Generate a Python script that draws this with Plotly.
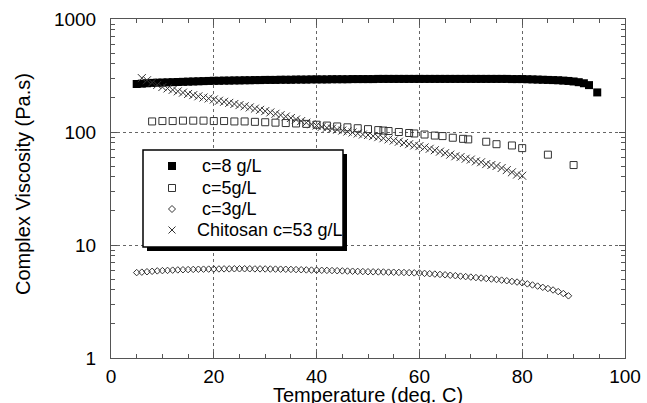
import plotly.graph_objects as go

# ---------------- data ----------------
t8 = [5, 6, 7, 8, 9, 10, 11, 12, 13, 14, 15, 16, 17, 18, 19, 20, 21, 22, 23, 24, 25, 26, 27, 28, 29, 30,
      31, 32, 33, 34, 35, 36, 37, 38, 39, 40, 41, 42, 43, 44, 45, 46, 47, 48, 49, 50, 51, 52, 53, 54, 55,
      56, 57, 58, 59, 60, 61, 62, 63, 64, 65, 66, 67, 68, 69, 70, 71, 72, 73, 74, 75, 76, 77, 78, 79, 80,
      81, 82, 83, 84, 85, 86, 87, 88, 89, 90, 91, 92, 93, 94.6]
v8 = [266, 268, 270, 272, 273, 274, 275, 276, 277, 278, 279, 280, 281, 282, 283, 284, 284, 285, 285, 286,
      286, 287, 287, 288, 288, 289, 289, 289, 290, 290, 290, 291, 291, 291, 292, 292, 292, 292, 293, 293,
      293, 293, 294, 294, 294, 294, 294, 295, 295, 295, 295, 295, 295, 295, 295, 295, 295, 295, 295, 295,
      295, 295, 295, 295, 295, 295, 295, 295, 295, 295, 295, 295, 295, 294, 294, 294, 293, 292, 291, 290,
      289, 288, 287, 285, 283, 280, 276, 270, 260, 224]

t5 = [8, 10, 12, 14, 16, 18, 20, 22, 24, 26, 28, 30, 32, 34, 36, 38, 40, 42, 44, 46, 48, 50, 52, 53, 54,
      56, 58, 59, 61, 63, 64.5, 66.5, 68.5, 69.5, 73, 75, 78, 80, 85, 90]
v5 = [124, 125, 125, 126, 126, 126, 125, 125, 124, 124, 123, 122, 121, 120, 119, 118, 116, 114, 112, 110,
      108, 106, 104, 103, 102, 100, 98, 97, 95, 93, 92, 89, 87, 86, 82, 78, 76, 72, 63, 51]

t3 = [5, 6, 7, 8, 9, 10, 11, 12, 13, 14, 15, 16, 17, 18, 19, 20, 21, 22, 23, 24, 25, 26, 27, 28, 29, 30,
      31, 32, 33, 34, 35, 36, 37, 38, 39, 40, 41, 42, 43, 44, 45, 46, 47, 48, 49, 50, 51, 52, 53, 54, 55,
      56, 57, 58, 59, 60, 61, 62, 63, 64, 65, 66, 67, 68, 69, 70, 71, 72, 73, 74, 75, 76, 77, 78, 79, 80,
      81, 82, 83, 84, 85, 86, 87, 88, 89]
v3 = [5.70, 5.75, 5.80, 5.85, 5.90, 5.93, 5.96, 5.99, 6.02, 6.04, 6.06, 6.08, 6.10, 6.11, 6.12, 6.13,
      6.14, 6.15, 6.15, 6.16, 6.16, 6.16, 6.16, 6.15, 6.15, 6.14, 6.13, 6.12, 6.11, 6.10, 6.08, 6.06,
      6.04, 6.02, 6.00, 5.98, 5.97, 5.96, 5.94, 5.92, 5.90, 5.88, 5.86, 5.84, 5.82, 5.80, 5.79, 5.78,
      5.77, 5.75, 5.74, 5.72, 5.71, 5.69, 5.67, 5.65, 5.61, 5.57, 5.53, 5.49, 5.45, 5.40, 5.35, 5.30,
      5.25, 5.20, 5.15, 5.10, 5.05, 5.00, 4.95, 4.89, 4.83, 4.76, 4.70, 4.63, 4.53, 4.43, 4.33, 4.22,
      4.12, 4.00, 3.87, 3.72, 3.55]

tc = [6, 7, 8, 9, 10, 11, 12, 13, 14, 15, 16, 17, 18, 19, 20, 21, 22, 23, 24, 25, 26, 27, 28, 29, 30,
      31, 32, 33, 34, 35, 36, 37, 38, 39, 40, 41, 42, 43, 44, 45, 46, 47, 48, 49, 50, 51, 52, 53, 54, 55,
      56, 57, 58, 59, 60, 61, 62, 63, 64, 65, 66, 67, 68, 69, 70, 71, 72, 73, 74, 75, 76, 77, 78, 79, 80]
vc = [300, 287, 274, 261, 250, 243, 236, 229, 223, 217, 212, 207, 202, 198, 194, 189, 185, 181, 177, 173,
      169, 165, 161, 157, 153, 149, 145, 141, 137, 133, 129, 125, 121, 117, 114, 111, 109, 107, 105, 103,
      101, 99, 97, 95, 94, 92, 90, 88, 86, 84, 82, 80, 78, 76, 75, 73, 71, 69, 67, 65, 63, 61, 60, 58,
      57, 55, 54, 52, 51, 50, 48, 46, 44, 42, 41]

names = ["c=8 g/L", "c=5g/L", "c=3g/L", "Chitosan c=53 g/L"]
x_ticks = [0, 20, 40, 60, 80, 100]
y_ticks = [1, 10, 100, 1000]
x_title = "Temperature (deg. C)"
y_title = "Complex Viscosity (Pa.s)"

FONT = "Liberation Sans, Arial, sans-serif"
GREY = "#333333"

styles = [
    dict(symbol="square", size=8, color="black"),
    dict(symbol="square-open", size=7, color=GREY, line=dict(width=1)),
    dict(symbol="diamond-open", size=5, color=GREY, line=dict(width=1)),
    dict(symbol="x-thin-open", size=8, color=GREY, line=dict(width=1, color=GREY)),
]

fig = go.Figure()
for xs, ys, nm, st in zip([t8, t5, t3, tc], [v8, v5, v3, vc], names, styles):
    fig.add_trace(go.Scatter(x=xs, y=ys, mode="markers", name=nm, marker=st, showlegend=False))

# ---- layout geometry (pixels) ----
L, R, T, B = 111, 22, 19, 45
W, H = 647, 403
PW, PH = W - L - R, H - T - B


def px(p):  # pixel x -> paper fraction
    return (p - L) / PW


def py(p):  # pixel y -> paper fraction
    return (H - B - p) / PH


# ---- hand-drawn legend box (with drop shadow) ----
mx = 172
rows = [166, 188, 209, 230]
text_x = [200, 200, 200, 195]

shapes = [
    dict(type="rect", xref="paper", yref="paper", x0=px(147), x1=px(347), y0=py(251), y1=py(154),
         fillcolor="black", line=dict(width=0), layer="above"),
    dict(type="rect", xref="paper", yref="paper", x0=px(143), x1=px(343), y0=py(247), y1=py(150),
         fillcolor="white", line=dict(width=1.5, color="black"), layer="above"),
    # filled square
    dict(type="rect", xref="paper", yref="paper", x0=px(mx - 4), x1=px(mx + 4),
         y0=py(rows[0] + 4), y1=py(rows[0] - 4), fillcolor="black", line=dict(width=0), layer="above"),
    # open square
    dict(type="rect", xref="paper", yref="paper", x0=px(mx - 3.5), x1=px(mx + 3.5),
         y0=py(rows[1] + 3.5), y1=py(rows[1] - 3.5), line=dict(width=1, color=GREY), layer="above"),
    # open diamond
    dict(type="path", xref="paper", yref="paper",
         path="M {a},{b} L {c},{d} L {a},{e} L {f},{d} Z".format(
             a=px(mx), b=py(rows[2] - 3.5), c=px(mx + 3.5), d=py(rows[2]), e=py(rows[2] + 3.5),
             f=px(mx - 3.5)),
         line=dict(width=1, color=GREY), layer="above"),
    # cross
    dict(type="line", xref="paper", yref="paper", x0=px(mx - 3.5), x1=px(mx + 3.5),
         y0=py(rows[3] - 3.5), y1=py(rows[3] + 3.5), line=dict(width=1, color=GREY), layer="above"),
    dict(type="line", xref="paper", yref="paper", x0=px(mx - 3.5), x1=px(mx + 3.5),
         y0=py(rows[3] + 3.5), y1=py(rows[3] - 3.5), line=dict(width=1, color=GREY), layer="above"),
]

annotations = [dict(x=px(tx), y=py(yy), xref="paper", yref="paper", text=nm, showarrow=False,
                    xanchor="left", yanchor="middle",
                    font=dict(size=18, family=FONT, color="black"))
               for tx, yy, nm in zip(text_x, rows, names)]
annotations.append(dict(x=px(368), y=py(395), xref="paper", yref="paper", text=x_title,
                        showarrow=False, xanchor="center", yanchor="middle",
                        font=dict(size=20, family=FONT, color="black")))
annotations.append(dict(x=px(23), y=py(184), xref="paper", yref="paper", text=y_title,
                        showarrow=False, xanchor="center", yanchor="middle", textangle=-90,
                        font=dict(size=20, family=FONT, color="black")))

axis_common = dict(showline=True, linecolor="#555555", linewidth=1, mirror="ticks",
                   ticks="inside", ticklen=6, tickcolor="#555555", automargin=False,
                   showgrid=True, gridcolor="#666666", griddash="dot", gridwidth=1,
                   zeroline=False, tickfont=dict(size=19, color="black", family=FONT))

fig.update_layout(
    width=W, height=H,
    margin=dict(l=L, r=R, t=T, b=B),
    paper_bgcolor="white", plot_bgcolor="white",
    font=dict(family=FONT, color="black"),
    showlegend=False,
    shapes=shapes,
    annotations=annotations,
    xaxis=dict(range=[0, 100], tickvals=x_ticks, ticktext=[str(v) for v in x_ticks],
               minor=dict(dtick=5, ticks="inside", ticklen=4, tickcolor="#555555", showgrid=False),
               ticklabelstandoff=1, **axis_common),
    yaxis=dict(type="log", range=[0, 3], tickvals=y_ticks, ticktext=[str(v) for v in y_ticks],
               minor=dict(dtick="D1", ticks="inside", ticklen=4, tickcolor="#555555", showgrid=False),
               ticklabelstandoff=10, **axis_common),
)

fig.write_html("out.html")
